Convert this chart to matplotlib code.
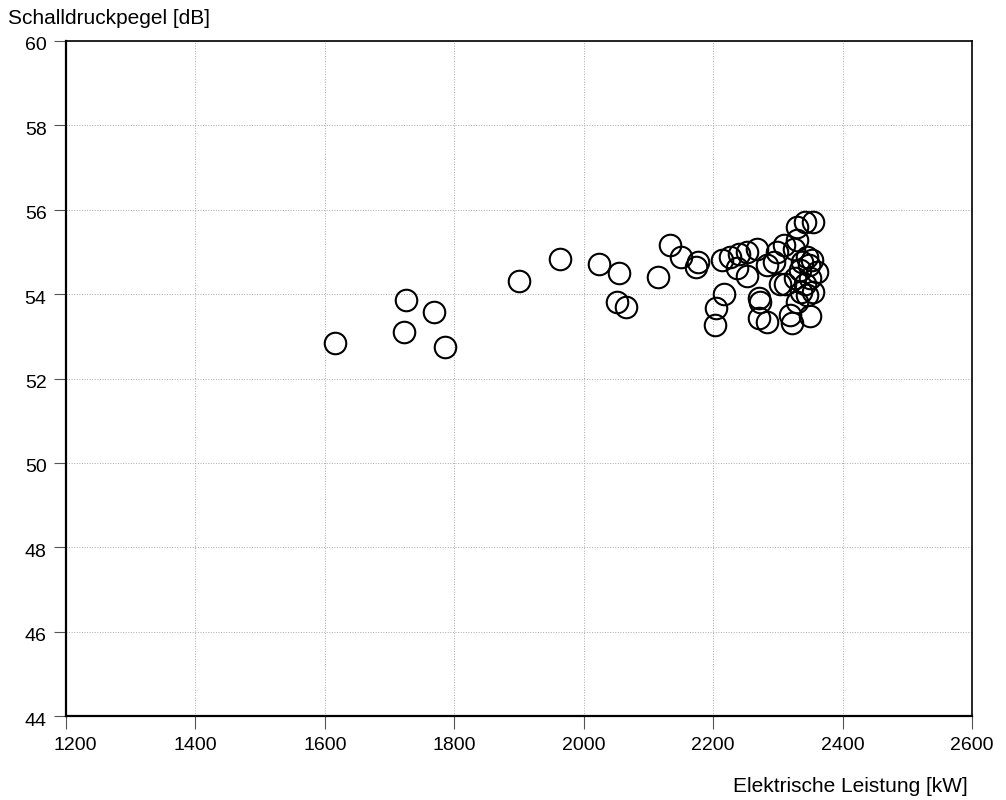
import matplotlib
matplotlib.use("Agg")
import matplotlib.pyplot as plt
import matplotlib.transforms as mtransforms

plt.rcParams['font.family'] = ['Liberation Sans', 'DejaVu Sans']

power_kw = [1615, 1725, 1722, 1768, 1785, 1900, 1963, 2023, 2055, 2052, 2065, 2115,
            2134, 2151, 2177, 2174, 2217, 2205, 2203,
            2214, 2226, 2240, 2252, 2268, 2298, 2237, 2252, 2294, 2272, 2271, 2283,
            2303, 2329, 2342, 2355, 2329, 2309, 2325, 2326, 2349, 2360, 2318, 2349,
            2329, 2322, 2355, 2311, 2337, 2345, 2348, 2334, 2342, 2335, 2345, 2352,
            2283, 2271]
level_db = [52.83, 53.85, 53.11, 53.58, 52.75, 54.30, 54.84, 54.72, 54.51, 53.82, 53.70, 54.41,
            55.17, 54.89, 54.77, 54.65, 54.01, 53.68, 53.28,
            54.82, 54.89, 54.94, 55.01, 55.06, 55.01, 54.63, 54.42, 54.77, 53.82, 53.44, 53.35,
            54.23, 55.60, 55.70, 55.72, 55.29, 55.17, 55.06, 54.39, 54.39, 54.53, 53.51, 53.47,
            53.82, 53.32, 54.06, 54.23, 54.77, 54.87, 54.68, 54.58, 54.23, 54.06, 53.99, 54.82,
            54.70, 53.92]

x_ticks = [1200, 1400, 1600, 1800, 2000, 2200, 2400, 2600]
y_ticks = [44, 46, 48, 50, 52, 54, 56, 58, 60]

fig = plt.figure(figsize=(10.06, 8.0), dpi=100)
ax = fig.add_axes([66/1006, 84/800, (972-66)/1006, (716-41)/800])

ax.plot(power_kw, level_db, linestyle='none', marker='o', markersize=15.5,
        markerfacecolor='none', markeredgecolor='black', markeredgewidth=1.5)

ax.set_xlim(1200, 2600)
ax.set_ylim(44, 60)
ax.set_xticks(x_ticks)
ax.set_yticks(y_ticks)
ax.grid(True, color='#aaaaaa', linestyle=':', linewidth=0.7)
ax.set_axisbelow(True)
ax.tick_params(direction='out', length=9, width=0.8, labelsize=14, color='#555555')
ax.tick_params(axis='x', pad=6)
ax.tick_params(axis='y', pad=5)
for side in ['left', 'bottom']:
    ax.spines[side].set_linewidth(1.6)
for side in ['top', 'right']:
    ax.spines[side].set_linewidth(1.2)

# first x label sits a little right of its tick in the reference
lbl0 = ax.get_xticklabels()[0]
lbl0.set_transform(lbl0.get_transform() + mtransforms.ScaledTranslation(9/100, 0, fig.dpi_scale_trans))
# y labels sit a touch below their ticks
for lbl in ax.get_yticklabels():
    lbl.set_transform(lbl.get_transform() + mtransforms.ScaledTranslation(0, -3/100, fig.dpi_scale_trans))

fig.text(8/1006, 1 - 18/800, 'Schalldruckpegel [dB]', fontsize=15, ha='left', va='center')
fig.text(968/1006, 1 - 786/800, 'Elektrische Leistung [kW]', fontsize=15, ha='right', va='center')

fig.savefig('out.png', dpi=100)
